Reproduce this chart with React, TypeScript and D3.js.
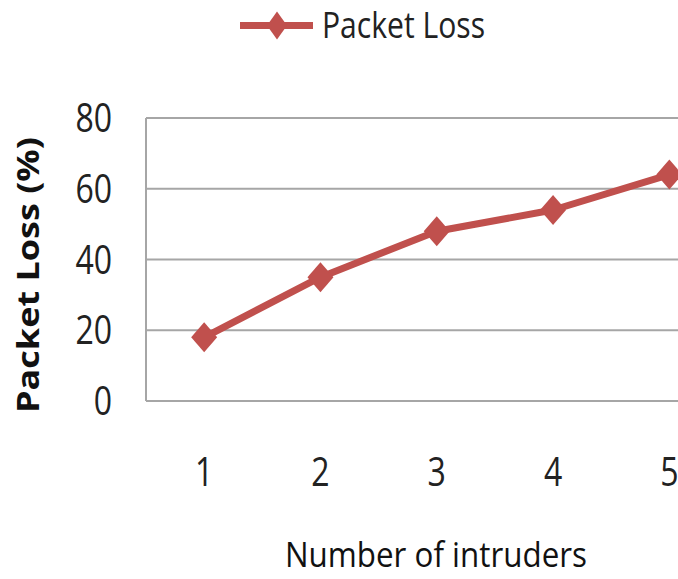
import React from "react";
import * as d3 from "d3";

const categories = ["1", "2", "3", "4", "5"];
const packetLoss = [18, 35, 48, 54, 64];
const yTicks = [0, 20, 40, 60, 80];
const seriesName = "Packet Loss";
const xTitle = "Number of intruders";
const yTitle = "Packet Loss (%)";

const W = 678;
const H = 579;
const plotLeft = 146;
const plotTop = 118;
const plotBottom = 401;
const step = 116.3;
const color = "#C0504D";
const grid = "#a6a6a6";
const font = "'Open Sans', 'Liberation Sans', sans-serif";

export default function App() {
  const x = d3
    .scaleBand<string>()
    .domain(categories)
    .range([plotLeft, plotLeft + step * categories.length])
    .paddingInner(0)
    .paddingOuter(0);
  const y = d3.scaleLinear().domain([0, 80]).range([plotBottom, plotTop]);
  const cx = (c: string) => (x(c) as number) + x.bandwidth() / 2;

  const line = d3
    .line<number>()
    .x((_, i) => cx(categories[i]))
    .y((d) => y(d));

  const diamond = (px: number, py: number, hw: number, hh: number) =>
    `M${px},${py - hh}L${px + hw},${py}L${px},${py + hh}L${px - hw},${py}Z`;

  const sx = 0.8;

  return (
    <svg
      width={W}
      height={H}
      style={{ position: "absolute", left: 0, top: 0, background: "#fff" }}
      fontFamily={font}
    >
      <rect x={0} y={0} width={W} height={H} fill="#fff" />
      {yTicks.map((t) => (
        <line
          key={t}
          x1={plotLeft}
          x2={plotLeft + step * categories.length}
          y1={y(t)}
          y2={y(t)}
          stroke={grid}
          strokeWidth={2}
        />
      ))}
      <line x1={plotLeft} x2={plotLeft} y1={plotTop} y2={plotBottom} stroke={grid} strokeWidth={2} />

      {yTicks.map((t) => (
        <text
          key={t}
          transform={`translate(112,${y(t) + 14}) scale(${sx},1)`}
          textAnchor="end"
          fontSize={40}
          fill="#222"
        >
          {t}
        </text>
      ))}

      {categories.map((c) => (
        <text
          key={c}
          transform={`translate(${cx(c)},486) scale(${sx},1)`}
          textAnchor="middle"
          fontSize={40}
          fill="#222"
        >
          {c}
        </text>
      ))}

      <path d={line(packetLoss) || ""} fill="none" stroke={color} strokeWidth={7} strokeLinejoin="round" />
      {packetLoss.map((v, i) => (
        <path key={i} d={diamond(cx(categories[i]), y(v), 13, 15)} fill={color} />
      ))}

      <line x1={240} x2={313} y1={25.5} y2={25.5} stroke={color} strokeWidth={7} />
      <path d={diamond(277, 25.5, 10, 14)} fill={color} />
      <text x={322} y={38} fontSize={36} textLength={163} lengthAdjust="spacingAndGlyphs" fill="#222">
        {seriesName}
      </text>

      <text
        x={436}
        y={567}
        fontSize={34}
        fontWeight={500}
        textAnchor="middle"
        textLength={302}
        lengthAdjust="spacingAndGlyphs"
        fill="#111"
      >
        {xTitle}
      </text>

      <text
        transform={`translate(39,275) rotate(-90)`}
        fontSize={31}
        fontWeight="bold"
        textAnchor="middle"
        textLength={276}
        lengthAdjust="spacingAndGlyphs"
        fill="#111"
      >
        {yTitle}
      </text>
    </svg>
  );
}
